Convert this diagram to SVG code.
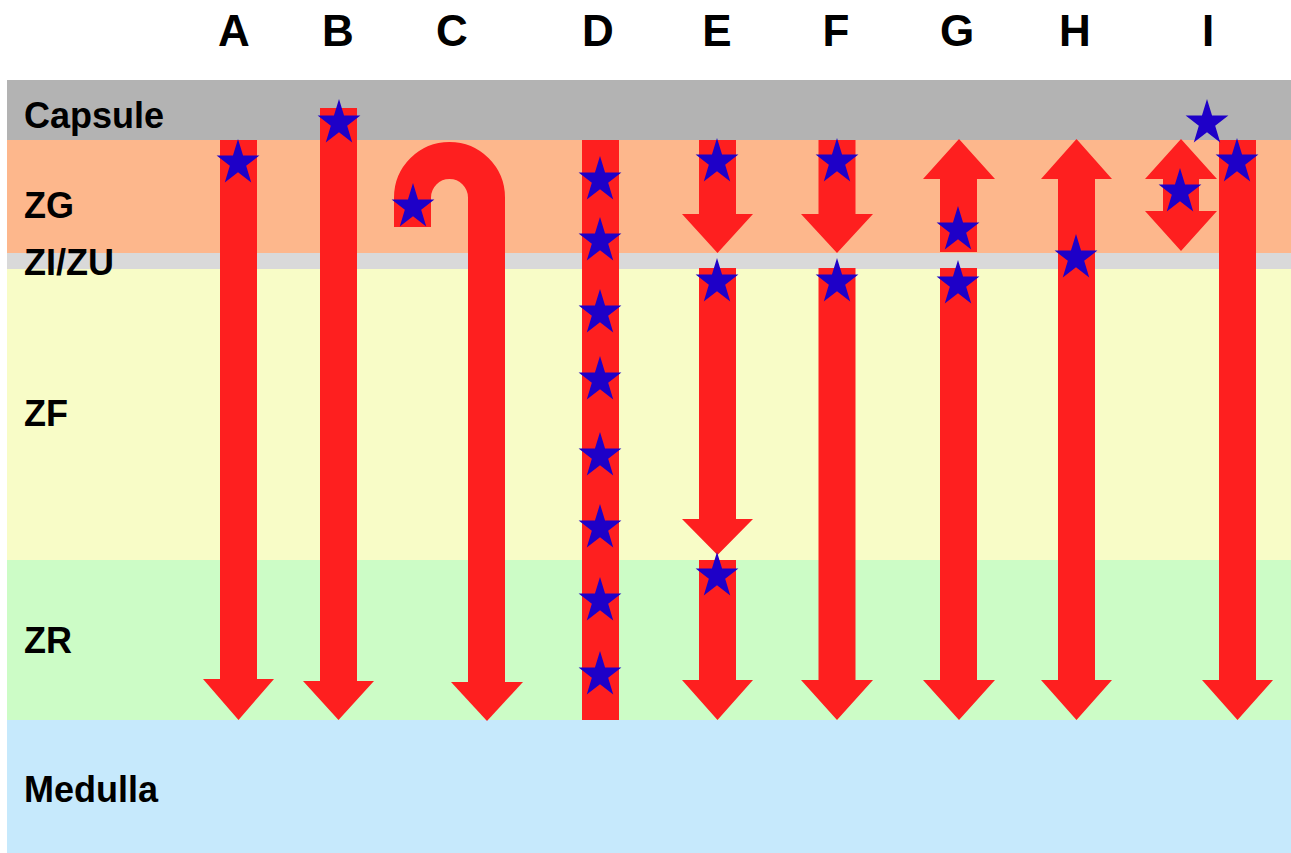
<svg xmlns="http://www.w3.org/2000/svg" xmlns:xlink="http://www.w3.org/1999/xlink" width="1291" height="853" viewBox="0 0 1291 853">
<style>
.lbl{font-family:"Liberation Sans",Arial,sans-serif;font-weight:bold;fill:#000}
.col{font-size:44px;text-anchor:middle}
.zone{font-size:36px}
.ar{fill:#fe1f1f}
.st{fill:#1e00c8}
</style>
<defs>
<polygon id="star" class="st" points="0,-24 5.05,-7.42 21.4,-7.42 8.18,2.83 13.23,19.42 0,9.17 -13.23,19.42 -8.18,2.83 -21.4,-7.42 -5.05,-7.42"/>
</defs>
<rect width="1291" height="853" fill="#fff"/>
<g id="zones">
<rect x="7" y="80" width="1284" height="60" fill="#b3b3b3"/>
<rect x="7" y="140" width="1284" height="113" fill="#fdb78c"/>
<rect x="7" y="253" width="1284" height="16" fill="#d9d9d9"/>
<rect x="7" y="269" width="1284" height="291" fill="#f8fcc7"/>
<rect x="7" y="560" width="1284" height="160" fill="#ccfcc6"/>
<rect x="7" y="720" width="1284" height="133" fill="#c6e9fc"/>
<text class="lbl zone" x="24" y="128">Capsule</text>
<text class="lbl zone" x="24" y="218">ZG</text>
<text class="lbl zone" x="24" y="275">ZI/ZU</text>
<text class="lbl zone" x="24" y="426">ZF</text>
<text class="lbl zone" x="24" y="653">ZR</text>
<text class="lbl zone" x="24" y="802">Medulla</text>
</g>
<g id="headers">
<text class="lbl col" x="234" y="46">A</text>
<text class="lbl col" x="338" y="46">B</text>
<text class="lbl col" x="452" y="46">C</text>
<text class="lbl col" x="598" y="46">D</text>
<text class="lbl col" x="717" y="46">E</text>
<text class="lbl col" x="836" y="46">F</text>
<text class="lbl col" x="957" y="46">G</text>
<text class="lbl col" x="1075" y="46">H</text>
<text class="lbl col" x="1208" y="46">I</text>
</g>
<g id="connectors">
<g id="colA">
<polygon class="ar" points="220,140 257,140 257,679 274,679 238.5,720 203,679 220,679"/>
<use xlink:href="#star" href="#star" x="238" y="163"/>
</g>
<g id="colB">
<polygon class="ar" points="320,108 357,108 357,681 374,681 338.5,720 303,681 320,681"/>
<use xlink:href="#star" href="#star" x="339" y="123"/>
</g>
<g id="colC">
<path d="M412.5,227 V197.5 A37,37 0 0 1 486.5,197.5 V683" fill="none" stroke="#fe1f1f" stroke-width="37"/>
<polygon class="ar" points="451,682 523,682 487,721"/>
<use xlink:href="#star" href="#star" x="413" y="207"/>
</g>
<g id="colD">
<rect class="ar" x="582" y="140" width="37" height="580"/>
<use xlink:href="#star" href="#star" x="600" y="180"/>
<use xlink:href="#star" href="#star" x="600" y="241"/>
<use xlink:href="#star" href="#star" x="600" y="313"/>
<use xlink:href="#star" href="#star" x="600" y="380"/>
<use xlink:href="#star" href="#star" x="600" y="456"/>
<use xlink:href="#star" href="#star" x="600" y="528"/>
<use xlink:href="#star" href="#star" x="600" y="601"/>
<use xlink:href="#star" href="#star" x="600" y="675"/>
</g>
<g id="colE">
<polygon class="ar" points="699,140 736,140 736,214 753,214 717.5,253 682,214 699,214"/>
<polygon class="ar" points="699,268 736,268 736,519 753,519 717.5,555 682,519 699,519"/>
<polygon class="ar" points="699,560 736,560 736,680 753,680 717.5,720 682,680 699,680"/>
<use xlink:href="#star" href="#star" x="717" y="162"/>
<use xlink:href="#star" href="#star" x="717" y="282"/>
<use xlink:href="#star" href="#star" x="717" y="576"/>
</g>
<g id="colF">
<polygon class="ar" points="818.5,140 855.5,140 855.5,214 873,214 837,253 801,214 818.5,214"/>
<polygon class="ar" points="818.5,268 855.5,268 855.5,680 873,680 837,720 801,680 818.5,680"/>
<use xlink:href="#star" href="#star" x="837" y="162"/>
<use xlink:href="#star" href="#star" x="837" y="282"/>
</g>
<g id="colG">
<polygon class="ar" points="959,139 995,179 977,179 977,252 940,252 940,179 923,179"/>
<polygon class="ar" points="940,268 977,268 977,680 995,680 959,720 923,680 940,680"/>
<use xlink:href="#star" href="#star" x="958" y="230"/>
<use xlink:href="#star" href="#star" x="958" y="284"/>
</g>
<g id="colH">
<polygon class="ar" points="1076.5,139 1112,179 1095,179 1095,680 1112,680 1076.5,720 1041,680 1058,680 1058,179 1041,179"/>
<use xlink:href="#star" href="#star" x="1076" y="258"/>
</g>
<g id="colI">
<polygon class="ar" points="1181,139 1217,179 1199,179 1199,211 1217,211 1181,251 1145,211 1163,211 1163,179 1145,179"/>
<polygon class="ar" points="1219,140 1256,140 1256,680 1273,680 1237.5,720 1202,680 1219,680"/>
<use xlink:href="#star" href="#star" x="1207" y="123"/>
<use xlink:href="#star" href="#star" x="1180" y="192"/>
<use xlink:href="#star" href="#star" x="1237" y="162"/>
</g>
</g>
</svg>
